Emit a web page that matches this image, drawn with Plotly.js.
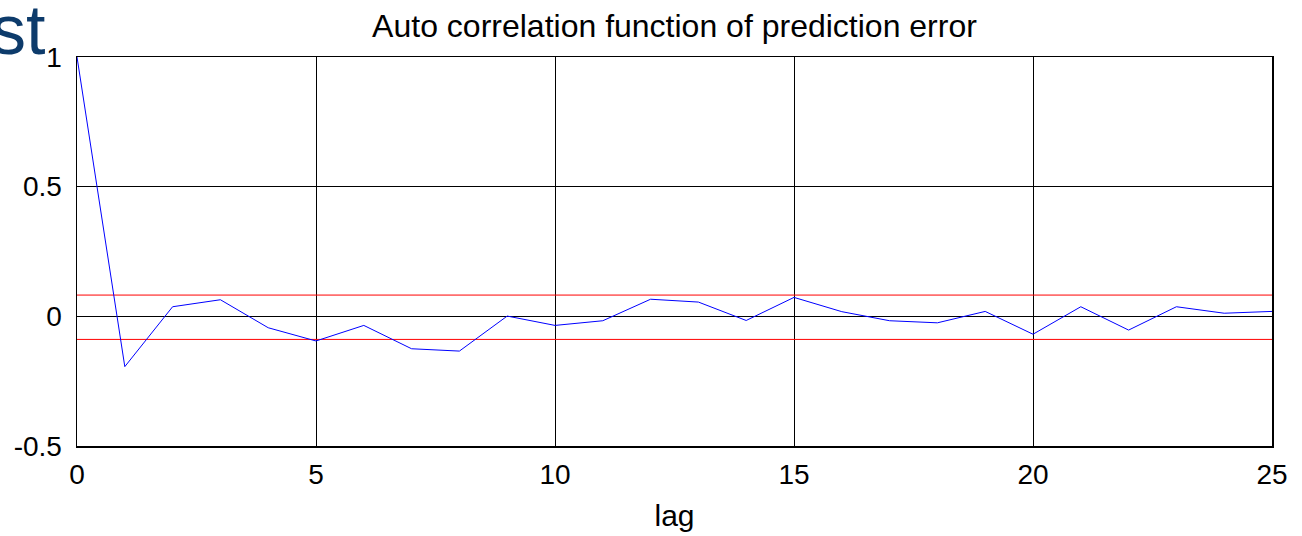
<!DOCTYPE html>
<html>
<head>
<meta charset="utf-8">
<script src="https://cdn.plot.ly/plotly-3.0.1.min.js"></script>
<style>
  html, body { margin: 0; padding: 0; background: #fff; }
  #chart { width: 1302px; height: 536px; }
</style>
</head>
<body>
<div id="chart"></div>
<script>
// Sample autocorrelation of the prediction error, lags 0..25
const lags = [0, 1, 2, 3, 4, 5, 6, 7, 8, 9, 10, 11, 12, 13, 14, 15, 16, 17, 18, 19, 20, 21, 22, 23, 24, 25];
const acf = [1.0, -0.194, 0.037, 0.064, -0.044, -0.095, -0.035, -0.125, -0.134, 0.001,
             -0.035, -0.017, 0.066, 0.055, -0.016, 0.073, 0.018, -0.017, -0.025, 0.019,
             -0.069, 0.037, -0.053, 0.037, 0.012, 0.019];

// Confidence bounds
const boundX = [0, 25];
const upperBound = [0.082, 0.082];
const lowerBound = [-0.089, -0.089];

const xTicks = [0, 5, 10, 15, 20, 25];
const yTicks = [-0.5, 0, 0.5, 1];
const yTickText = ['-0.5', '0', '0.5', '1'];

const traces = [
  { x: boundX, y: upperBound, mode: 'lines', line: { color: '#ff0000', width: 1 }, hoverinfo: 'skip' },
  { x: boundX, y: lowerBound, mode: 'lines', line: { color: '#ff0000', width: 1 }, hoverinfo: 'skip' },
  { x: lags, y: acf, mode: 'lines', line: { color: '#0000ff', width: 1 } }
];

const fam = 'Liberation Sans, Arial, sans-serif';
const tickFont = { family: fam, size: 28, color: '#000' };

const layout = {
  width: 1302,
  height: 536,
  showlegend: false,
  paper_bgcolor: '#fff',
  plot_bgcolor: '#fff',
  margin: { l: 77, r: 30, t: 57, b: 90 },
  title: {
    text: 'Auto correlation function of prediction error',
    font: { family: fam, size: 32, color: '#000' },
    x: 0.5, xref: 'paper', xanchor: 'center',
    y: 1, yref: 'paper', yanchor: 'bottom', pad: { b: 20 }
  },
  xaxis: {
    range: [0, 25],
    tickvals: xTicks,
    ticks: '',
    ticklabelstandoff: 3,
    tickfont: tickFont,
    showgrid: true, gridcolor: '#000', gridwidth: 1,
    zeroline: false,
    showline: true, linecolor: '#000', linewidth: 1.5, mirror: true,
    title: { text: 'lag', font: { family: fam, size: 30, color: '#000' }, standoff: 16 }
  },
  yaxis: {
    range: [-0.5, 1],
    tickvals: yTicks,
    ticktext: yTickText,
    ticks: '',
    ticklabelstandoff: 8,
    tickfont: tickFont,
    showgrid: true, gridcolor: '#000', gridwidth: 1,
    zeroline: true, zerolinecolor: '#000', zerolinewidth: 1,
    showline: true, linecolor: '#000', linewidth: 1.5, mirror: true
  },
  annotations: [
    {
      text: 'st',
      xref: 'paper', yref: 'paper',
      x: 0, y: 1,
      xanchor: 'right', yanchor: 'bottom',
      xshift: -30, yshift: -14,
      showarrow: false,
      font: { family: fam, size: 70, color: '#0d3b6b' }
    }
  ]
};

Plotly.newPlot('chart', traces, layout, { displayModeBar: false, staticPlot: true });
</script>
</body>
</html>
